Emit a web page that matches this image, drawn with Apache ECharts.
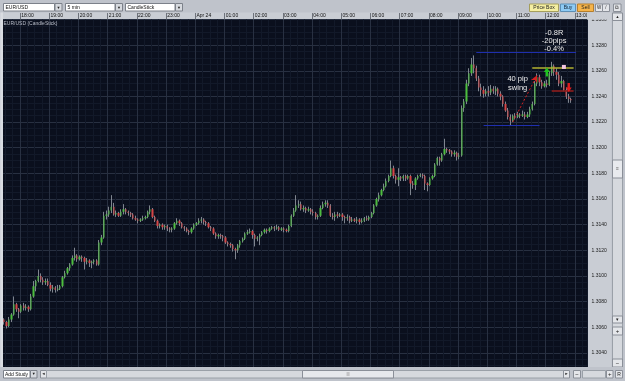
<!DOCTYPE html>
<html><head><meta charset="utf-8">
<script src="https://cdn.jsdelivr.net/npm/echarts@6/dist/echarts.min.js"></script>
<style>html,body{margin:0;padding:0;background:#c9cdd4;overflow:hidden}#c{width:625px;height:381px}</style>
</head><body><div id="c"></div>
<script>
// ---- data ----
const startMinute = 17 * 60 + 25;   // first 5-min slot 17:25
const stepMinutes = 5;
const slotCount = 240;
const hourTimes = ['18:00','19:00','20:00','21:00','22:00','23:00','00:00','01:00','02:00','03:00','04:00','05:00','06:00','07:00','08:00','09:00','10:00','11:00','12:00','13:00'];
const hourTickLabels = ['18:00','19:00','20:00','21:00','22:00','23:00','Apr 24','01:00','02:00','03:00','04:00','05:00','06:00','07:00','08:00','09:00','10:00','11:00','12:00','13:00'];
const priceMin = 1.3020, priceMax = 1.3300, priceStep = 0.0020;

// [open, close, low, high]
const ohlc = [
[1.3066,1.3064,1.3062,1.3067],[1.3064,1.3061,1.3059,1.3065],[1.3061,1.3066,1.3060,1.3068],[1.3066,1.3070,1.3064,1.3071],
[1.3070,1.3078,1.3069,1.3084],[1.3078,1.3074,1.3072,1.3079],[1.3074,1.3072,1.3067,1.3075],[1.3072,1.3077,1.3071,1.3078],
[1.3077,1.3075,1.3073,1.3079],[1.3075,1.3076,1.3073,1.3078],[1.3076,1.3074,1.3072,1.3077],[1.3074,1.3084,1.3073,1.3086],
[1.3084,1.3092,1.3083,1.3096],[1.3092,1.3096,1.3088,1.3097],[1.3096,1.3100,1.3095,1.3105],[1.3100,1.3097,1.3095,1.3102],
[1.3097,1.3095,1.3093,1.3099],[1.3095,1.3096,1.3093,1.3098],[1.3096,1.3093,1.3092,1.3098],[1.3093,1.3090,1.3088,1.3095],
[1.3090,1.3091,1.3087,1.3093],[1.3091,1.3089,1.3087,1.3092],[1.3089,1.3090,1.3088,1.3093],[1.3090,1.3092,1.3089,1.3093],
[1.3092,1.3099,1.3091,1.3100],[1.3099,1.3102,1.3098,1.3104],[1.3102,1.3106,1.3101,1.3107],[1.3106,1.3109,1.3104,1.3110],
[1.3109,1.3114,1.3108,1.3116],[1.3114,1.3116,1.3112,1.3122],[1.3116,1.3113,1.3111,1.3117],[1.3113,1.3115,1.3112,1.3116],
[1.3115,1.3114,1.3111,1.3116],[1.3114,1.3111,1.3105,1.3115],[1.3111,1.3112,1.3109,1.3114],[1.3112,1.3110,1.3107,1.3113],
[1.3110,1.3111,1.3106,1.3112],[1.3111,1.3112,1.3109,1.3113],[1.3112,1.3109,1.3108,1.3113],[1.3109,1.3126,1.3108,1.3128],
[1.3126,1.3130,1.3124,1.3132],[1.3130,1.3147,1.3129,1.3150],[1.3147,1.3148,1.3144,1.3151],[1.3148,1.3151,1.3146,1.3154],
[1.3151,1.3154,1.3149,1.3163],[1.3154,1.3148,1.3147,1.3157],[1.3148,1.3149,1.3146,1.3151],[1.3149,1.3147,1.3146,1.3150],
[1.3147,1.3150,1.3146,1.3152],[1.3150,1.3152,1.3148,1.3156],[1.3152,1.3150,1.3148,1.3153],[1.3150,1.3149,1.3147,1.3151],
[1.3149,1.3148,1.3146,1.3150],[1.3148,1.3145,1.3144,1.3149],[1.3145,1.3144,1.3143,1.3147],[1.3144,1.3143,1.3141,1.3145],
[1.3143,1.3144,1.3142,1.3145],[1.3144,1.3145,1.3143,1.3147],[1.3145,1.3146,1.3144,1.3147],[1.3146,1.3150,1.3145,1.3151],
[1.3150,1.3152,1.3148,1.3155],[1.3152,1.3146,1.3145,1.3153],[1.3146,1.3143,1.3142,1.3147],[1.3143,1.3139,1.3137,1.3144],
[1.3139,1.3140,1.3137,1.3141],[1.3140,1.3138,1.3136,1.3141],[1.3138,1.3139,1.3136,1.3140],[1.3139,1.3137,1.3135,1.3140],
[1.3137,1.3136,1.3134,1.3138],[1.3136,1.3137,1.3134,1.3138],[1.3137,1.3141,1.3136,1.3142],[1.3141,1.3143,1.3140,1.3145],
[1.3143,1.3141,1.3139,1.3144],[1.3141,1.3138,1.3137,1.3142],[1.3138,1.3137,1.3135,1.3139],[1.3137,1.3135,1.3134,1.3138],
[1.3135,1.3134,1.3132,1.3136],[1.3134,1.3137,1.3133,1.3138],[1.3137,1.3140,1.3136,1.3141],[1.3140,1.3141,1.3139,1.3142],
[1.3141,1.3143,1.3140,1.3145],[1.3143,1.3144,1.3141,1.3146],[1.3144,1.3142,1.3140,1.3145],[1.3142,1.3141,1.3139,1.3143],
[1.3141,1.3138,1.3137,1.3142],[1.3138,1.3137,1.3135,1.3139],[1.3137,1.3133,1.3132,1.3138],[1.3133,1.3131,1.3129,1.3134],
[1.3131,1.3132,1.3129,1.3133],[1.3132,1.3131,1.3129,1.3133],[1.3131,1.3130,1.3127,1.3132],[1.3130,1.3126,1.3125,1.3131],
[1.3126,1.3125,1.3123,1.3127],[1.3125,1.3124,1.3122,1.3126],[1.3124,1.3121,1.3119,1.3125],[1.3121,1.3120,1.3113,1.3122],
[1.3120,1.3124,1.3118,1.3125],[1.3124,1.3127,1.3122,1.3128],[1.3127,1.3129,1.3126,1.3130],[1.3129,1.3133,1.3128,1.3134],
[1.3133,1.3134,1.3132,1.3136],[1.3134,1.3135,1.3133,1.3137],[1.3135,1.3132,1.3129,1.3136],[1.3132,1.3129,1.3123,1.3133],
[1.3129,1.3130,1.3127,1.3131],[1.3130,1.3132,1.3124,1.3133],[1.3132,1.3134,1.3131,1.3135],[1.3134,1.3136,1.3133,1.3137],
[1.3136,1.3135,1.3133,1.3137],[1.3135,1.3137,1.3134,1.3138],[1.3137,1.3138,1.3136,1.3139],[1.3138,1.3137,1.3135,1.3139],
[1.3137,1.3138,1.3136,1.3140],[1.3138,1.3136,1.3135,1.3139],[1.3136,1.3137,1.3135,1.3138],[1.3137,1.3136,1.3134,1.3138],
[1.3136,1.3135,1.3134,1.3137],[1.3135,1.3139,1.3134,1.3140],[1.3139,1.3147,1.3138,1.3148],[1.3147,1.3151,1.3146,1.3153],
[1.3151,1.3155,1.3150,1.3163],[1.3155,1.3156,1.3153,1.3159],[1.3156,1.3152,1.3151,1.3158],[1.3152,1.3153,1.3150,1.3155],
[1.3153,1.3151,1.3149,1.3154],[1.3151,1.3152,1.3150,1.3154],[1.3152,1.3150,1.3148,1.3153],[1.3150,1.3149,1.3147,1.3152],
[1.3149,1.3146,1.3144,1.3150],[1.3146,1.3147,1.3144,1.3148],[1.3147,1.3153,1.3146,1.3155],[1.3153,1.3156,1.3152,1.3158],
[1.3156,1.3157,1.3154,1.3159],[1.3157,1.3155,1.3153,1.3159],[1.3155,1.3147,1.3146,1.3156],[1.3147,1.3146,1.3144,1.3149],
[1.3146,1.3148,1.3143,1.3150],[1.3148,1.3147,1.3145,1.3150],[1.3147,1.3148,1.3146,1.3149],[1.3148,1.3146,1.3143,1.3149],
[1.3146,1.3145,1.3141,1.3147],[1.3145,1.3146,1.3143,1.3148],[1.3146,1.3143,1.3141,1.3147],[1.3143,1.3144,1.3142,1.3146],
[1.3144,1.3143,1.3142,1.3145],[1.3143,1.3144,1.3141,1.3146],[1.3144,1.3142,1.3140,1.3145],[1.3142,1.3143,1.3141,1.3145],
[1.3143,1.3145,1.3142,1.3146],[1.3145,1.3144,1.3143,1.3147],[1.3144,1.3146,1.3143,1.3147],[1.3146,1.3149,1.3145,1.3150],
[1.3149,1.3155,1.3148,1.3156],[1.3155,1.3160,1.3154,1.3161],[1.3160,1.3163,1.3158,1.3165],[1.3163,1.3167,1.3162,1.3168],
[1.3167,1.3170,1.3166,1.3172],[1.3170,1.3174,1.3169,1.3176],[1.3174,1.3178,1.3173,1.3179],[1.3178,1.3184,1.3177,1.3190],
[1.3184,1.3178,1.3176,1.3186],[1.3178,1.3175,1.3172,1.3179],[1.3175,1.3177,1.3170,1.3184],[1.3177,1.3176,1.3174,1.3178],
[1.3176,1.3178,1.3174,1.3179],[1.3178,1.3176,1.3174,1.3179],[1.3176,1.3178,1.3175,1.3179],[1.3178,1.3172,1.3163,1.3179],
[1.3172,1.3171,1.3168,1.3174],[1.3171,1.3176,1.3167,1.3177],[1.3176,1.3178,1.3175,1.3179],[1.3178,1.3179,1.3177,1.3180],
[1.3179,1.3178,1.3176,1.3180],[1.3178,1.3172,1.3167,1.3179],[1.3172,1.3171,1.3166,1.3173],[1.3171,1.3176,1.3170,1.3177],
[1.3176,1.3178,1.3175,1.3179],[1.3178,1.3187,1.3177,1.3188],[1.3187,1.3192,1.3186,1.3193],[1.3192,1.3190,1.3186,1.3193],
[1.3190,1.3195,1.3189,1.3196],[1.3195,1.3199,1.3194,1.3207],[1.3199,1.3198,1.3196,1.3200],[1.3198,1.3197,1.3195,1.3199],
[1.3197,1.3195,1.3193,1.3198],[1.3195,1.3196,1.3193,1.3198],[1.3196,1.3193,1.3190,1.3197],[1.3193,1.3194,1.3191,1.3196],
[1.3194,1.3231,1.3193,1.3233],[1.3231,1.3236,1.3228,1.3238],[1.3236,1.3250,1.3234,1.3253],[1.3250,1.3258,1.3248,1.3262],
[1.3258,1.3265,1.3256,1.3270],[1.3265,1.3262,1.3258,1.3272],[1.3262,1.3254,1.3252,1.3264],[1.3254,1.3247,1.3244,1.3256],
[1.3247,1.3245,1.3240,1.3250],[1.3245,1.3242,1.3239,1.3248],[1.3242,1.3244,1.3240,1.3246],[1.3244,1.3243,1.3240,1.3248],
[1.3243,1.3246,1.3241,1.3249],[1.3246,1.3244,1.3242,1.3248],[1.3244,1.3246,1.3241,1.3248],[1.3246,1.3242,1.3240,1.3247],
[1.3242,1.3240,1.3237,1.3244],[1.3240,1.3234,1.3232,1.3241],[1.3234,1.3229,1.3228,1.3236],[1.3229,1.3224,1.3222,1.3231],
[1.3224,1.3221,1.3217,1.3226],[1.3221,1.3225,1.3220,1.3226],[1.3225,1.3224,1.3222,1.3227],[1.3224,1.3226,1.3223,1.3228],
[1.3226,1.3225,1.3223,1.3227],[1.3225,1.3226,1.3224,1.3229],[1.3226,1.3224,1.3222,1.3228],[1.3224,1.3226,1.3223,1.3228],
[1.3226,1.3230,1.3224,1.3232],[1.3230,1.3234,1.3229,1.3236],[1.3234,1.3250,1.3233,1.3252],[1.3250,1.3255,1.3248,1.3258],
[1.3255,1.3251,1.3248,1.3257],[1.3251,1.3248,1.3246,1.3253],[1.3248,1.3250,1.3247,1.3252],[1.3250,1.3249,1.3247,1.3253],
[1.3249,1.3258,1.3248,1.3260],[1.3258,1.3264,1.3256,1.3267],[1.3264,1.3259,1.3256,1.3265],[1.3259,1.3257,1.3253,1.3262],
[1.3257,1.3250,1.3248,1.3259],[1.3250,1.3252,1.3247,1.3256],[1.3252,1.3245,1.3244,1.3253],[1.3245,1.3240,1.3238,1.3247],
[1.3240,1.3238,1.3235,1.3242],[1.3238,1.3237,1.3235,1.3239]
];

// annotations: [slot index, price]
const swingHighLine = [[194, 1.32742], [235, 1.32742]];
const swingLowLine  = [[197, 1.32173], [220, 1.32173]];
const entryLine     = [[217, 1.32620], [234, 1.32620]];
const stopLine      = [[225, 1.32445], [234, 1.32445]];
const swingArrow    = [[209, 1.32200], [219, 1.32565]];
const buySignal  = [223, 1.32590];
const sellSignal = [232, 1.32470];
const targetMark = [230, 1.32630];
const swingNote  = [211, 1.32500];
const swingNoteText = '40 pip\nswing';
const resultNote = [226, 1.32835];
const resultNoteText = '-0.8R\n-20pips\n-0.4%';

// ---- categories (5-minute slots) ----
const times = [];
for (let i = 0; i < slotCount; i++) {
  const m = (startMinute + i * stepMinutes) % 1440;
  times.push(String(Math.floor(m / 60)).padStart(2, '0') + ':' + String(m % 60).padStart(2, '0'));
}
const isHour = (i, v) => hourTimes.indexOf(v) >= 0;
const isQuarter = (i, v) => /:(15|30|45)$/.test(v);

const FONT = '"Liberation Sans", Arial, sans-serif';
const chart = echarts.init(document.getElementById('c'), null, {renderer: 'canvas'});

// ---- UI chrome (not data) ----
const Z = 100;
function rect(x, y, w, h, fill, stroke, z) {
  return {type: 'rect', z: z || Z, silent: true, shape: {x, y, width: w, height: h},
    style: {fill, stroke: stroke || null, lineWidth: stroke ? 1 : 0}};
}
function txt(x, y, text, size, color, align, z, weight) {
  return {type: 'text', z: (z || Z) + 1, silent: true,
    style: {x, y, text, fill: color, font: (weight || 'normal') + ' ' + size + 'px ' + FONT,
      textAlign: align || 'left', textVerticalAlign: 'middle', align: align || 'left', verticalAlign: 'middle'}};
}
const chrome = [
  rect(0, 0, 625, 12.5, '#bfc3cb'),
  rect(0.5, 12.5, 2.5, 355, '#d9dce1'),
  // dropdowns
  rect(3.5, 3.5, 51, 7.5, '#ffffff', '#7c818a'), txt(5.5, 7.4, 'EUR/USD', 5, '#111'),
  rect(55, 3.5, 7, 7.5, '#d7dadf', '#7c818a'), txt(58.5, 7.4, '▼', 4, '#222', 'center'),
  rect(65.5, 3.5, 49.5, 7.5, '#ffffff', '#7c818a'), txt(67.5, 7.4, '5 min', 5, '#111'),
  rect(115.5, 3.5, 7, 7.5, '#d7dadf', '#7c818a'), txt(119, 7.4, '▼', 4, '#222', 'center'),
  rect(125.5, 3.5, 49.5, 7.5, '#ffffff', '#7c818a'), txt(127.5, 7.4, 'CandleStick', 5, '#111'),
  rect(175.5, 3.5, 7, 7.5, '#d7dadf', '#7c818a'), txt(179, 7.4, '▼', 4, '#222', 'center'),
  // buttons
  rect(529.5, 4, 29, 7.5, '#f5efa2', '#a59f5c'), txt(544, 7.8, 'Price Box', 5, '#222', 'center'),
  rect(560.5, 4, 15, 7.5, '#8ecbf5', '#5d8fb5'), txt(568, 7.8, 'Buy', 5, '#123', 'center'),
  rect(577.5, 4, 16, 7.5, '#f6b44a', '#b67e2a'), txt(585.5, 7.8, 'Sell', 5, '#222', 'center'),
  rect(595.5, 4, 7, 7.5, '#e3e5e9', '#8a8f98'), txt(599, 7.8, 'W', 4.5, '#222', 'center'),
  rect(602.5, 4, 7, 7.5, '#e3e5e9', '#8a8f98'), txt(606, 7.8, '/', 4.5, '#222', 'center'),
  rect(613.5, 4, 7.5, 7.5, '#e3e5e9', '#8a8f98'), txt(617.2, 7.8, '⧉', 5, '#222', 'center'),
  // cover above price panel (hides top half of upper label and axis overflow)
  rect(587, 12.5, 25, 7, '#c9cdd4'),
  // right scrollbar
  rect(611.5, 12.5, 13.5, 355, '#bfc3cb'),
  rect(612.5, 13, 10, 354, '#d6d9de', '#9aa0a8'),
  rect(612.5, 13, 10, 7.5, '#e4e6ea', '#8a8f98'), txt(617.5, 16.8, '▲', 4, '#222', 'center'),
  rect(612.5, 160, 10, 18, '#e8eaee', '#8a8f98'), txt(617.5, 169, '≡', 5, '#666', 'center'),
  rect(612.5, 316, 10, 7, '#e4e6ea', '#8a8f98'), txt(617.5, 319.5, '▾', 5, '#222', 'center'),
  rect(612.5, 327, 10, 8, '#e4e6ea', '#8a8f98'), txt(617.5, 331, '+', 6, '#222', 'center'),
  rect(612.5, 359, 10, 8, '#e4e6ea', '#8a8f98'), txt(617.5, 363, '−', 6, '#222', 'center'),
  // bottom bar
  rect(0, 367, 625, 14, '#bfc3cb'),
  rect(3.5, 370.5, 26.5, 7.5, '#ffffff', '#7c818a'), txt(5, 374.3, 'Add Study', 5, '#111'),
  rect(30.5, 370.5, 6.5, 7.5, '#d7dadf', '#7c818a'), txt(33.7, 374.3, '▼', 4, '#222', 'center'),
  rect(40.5, 370.5, 6, 7.5, '#e4e6ea', '#8a8f98'), txt(43.5, 374.3, '◄', 4, '#222', 'center'),
  rect(46.5, 370.5, 517, 7.5, '#d6d9de', '#9aa0a8'),
  rect(302.5, 370.5, 91, 7.5, '#e6e8ec', '#8a8f98'), txt(348, 374.3, '|||', 4, '#777', 'center'),
  rect(563.5, 370.5, 6, 7.5, '#e4e6ea', '#8a8f98'), txt(566.5, 374.3, '►', 4, '#222', 'center'),
  rect(573.5, 370.5, 7, 7.5, '#e4e6ea', '#8a8f98'), txt(577, 374.3, '−', 6, '#222', 'center'),
  rect(582.5, 370.5, 23, 7.5, '#d6d9de', '#9aa0a8'),
  rect(606.5, 370.5, 6.5, 7.5, '#e4e6ea', '#8a8f98'), txt(609.7, 374.3, '+', 6, '#222', 'center'),
  rect(615.5, 370.5, 7, 7.5, '#e4e6ea', '#8a8f98'), txt(619, 374.3, 'R', 5, '#222', 'center'),
  // panel caption
  txt(3.5, 23.5, 'EUR/USD (CandleStick)', 5, '#b9bdc8', 'left', 50)
];

const arrowPath = 'path://M5,0L10,5L7,5L7,10L3,10L3,5L0,5Z';
const WICK = '#7f858f';

const option = {
  animation: false,
  backgroundColor: '#c9cdd4',
  grid: {left: 3, right: 38, top: 19.5, bottom: -2.5, show: true, backgroundColor: '#0a0f1d', borderWidth: 0},
  xAxis: [{
    type: 'category', data: times, position: 'top', boundaryGap: true,
    axisLine: {show: false},
    axisTick: {show: true, inside: false, length: 6.5, interval: isHour, lineStyle: {color: '#6d727b', width: 1}},
    axisLabel: {interval: isHour, align: 'left', margin: 1.8, fontSize: 5, color: '#111', fontFamily: FONT,
      formatter: v => { const k = hourTimes.indexOf(v); return k >= 0 ? hourTickLabels[k] : ''; }},
    splitLine: {show: true, interval: isHour, lineStyle: {color: '#283041', width: 1}}
  }, {
    type: 'category', data: times, position: 'top', boundaryGap: true,
    axisLine: {show: false}, axisTick: {show: false}, axisLabel: {show: false},
    splitLine: {show: true, interval: isQuarter, lineStyle: {color: '#121929', width: 1}}
  }],
  yAxis: {
    type: 'value', position: 'right', min: priceMin, max: priceMax, interval: priceStep,
    axisLine: {show: false}, axisTick: {show: false},
    axisLabel: {margin: 4.5, fontSize: 5, color: '#1a1a1a', fontFamily: FONT, formatter: v => v.toFixed(4)},
    splitLine: {show: true, lineStyle: {color: '#283041', width: 1}},
    minorTick: {show: false, splitNumber: 4},
    minorSplitLine: {show: true, lineStyle: {color: '#121929', width: 1}}
  },
  series: [{
    type: 'candlestick', name: 'wicks', data: ohlc, barWidth: 1, z: 2,
    itemStyle: {color: WICK, color0: WICK, borderColor: WICK, borderColor0: WICK, borderColorDoji: WICK, borderWidth: 1},
    emphasis: {disabled: true},
    markLine: {
      silent: true, symbol: ['none', 'none'], label: {show: false}, emphasis: {disabled: true}, animation: false,
      data: [
        [{coord: swingHighLine[0], lineStyle: {color: '#1f2fae', width: 1, type: 'solid'}}, {coord: swingHighLine[1]}],
        [{coord: swingLowLine[0], lineStyle: {color: '#1f2fae', width: 1, type: 'solid'}}, {coord: swingLowLine[1]}],
        [{coord: entryLine[0], lineStyle: {color: '#b3b230', width: 1.6, type: 'solid'}}, {coord: entryLine[1]}],
        [{coord: stopLine[0], lineStyle: {color: '#8e1c1c', width: 1.6, type: 'solid'}}, {coord: stopLine[1]}],
        [{coord: swingArrow[0], symbol: 'none', lineStyle: {color: '#d42020', width: 1, type: [2, 2]}},
         {coord: swingArrow[1], symbol: 'arrow', symbolSize: [5, 7]}]
      ]
    },
    markPoint: {
      silent: true, label: {show: false}, emphasis: {disabled: true}, animation: false,
      data: [
        {coord: buySignal, symbol: arrowPath, symbolSize: [6, 9], itemStyle: {color: '#1fc21f'}},
        {coord: sellSignal, symbol: arrowPath, symbolRotate: 180, symbolSize: [6, 9], itemStyle: {color: '#e01c1c'}},
        {coord: targetMark, symbol: 'rect', symbolSize: 4, itemStyle: {color: '#f3c6e2'}},
        {coord: swingNote, symbol: 'rect', symbolSize: 1, itemStyle: {color: 'rgba(0,0,0,0)'},
          label: {show: true, position: 'inside', formatter: swingNoteText, color: '#ececec', fontSize: 7.5, lineHeight: 9, fontFamily: FONT}},
        {coord: resultNote, symbol: 'rect', symbolSize: 1, itemStyle: {color: 'rgba(0,0,0,0)'},
          label: {show: true, position: 'inside', formatter: resultNoteText, color: '#ececec', fontSize: 7.5, lineHeight: 8, fontFamily: FONT}}
      ]
    }
  }, {
    type: 'candlestick', name: 'bodies', data: ohlc, barWidth: 1.8, z: 3,
    itemStyle: {color: '#4dbd3e', color0: '#d44646', borderColor: 'rgba(0,0,0,0)', borderColor0: 'rgba(0,0,0,0)',
      borderColorDoji: 'rgba(0,0,0,0)', borderWidth: 0},
    emphasis: {disabled: true}
  }],
  graphic: {elements: chrome}
};
chart.setOption(option);
</script>
</body></html>
